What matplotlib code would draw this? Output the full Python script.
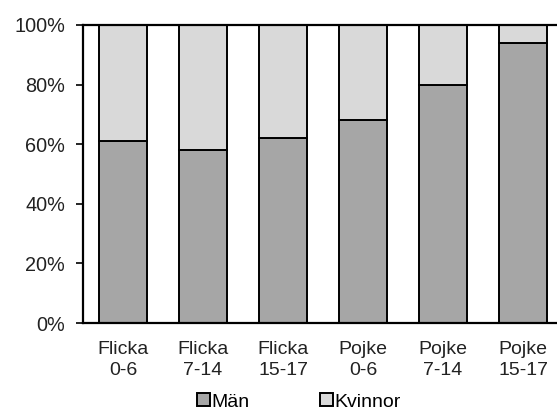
import matplotlib
matplotlib.use("Agg")
import matplotlib.pyplot as plt
import numpy as np

categories = ["Flicka\n0-6", "Flicka\n7-14", "Flicka\n15-17", "Pojke\n0-6", "Pojke\n7-14", "Pojke\n15-17"]
man = [61, 58, 62, 68, 80, 94]
kvinnor = [100 - v for v in man]

plt.rcParams['font.family'] = ['Liberation Sans', 'DejaVu Sans']

fig = plt.figure(figsize=(5.57, 4.11), dpi=100)
# plot area is cut off at the right edge in the original
ax = fig.add_axes([83 / 557, 1 - 323 / 411, 480 / 557, 298 / 411])

x = np.arange(len(categories))
ax.bar(x, man, width=0.61, color='#a6a6a6', edgecolor='black', linewidth=1.4, label='Män')
ax.bar(x, kvinnor, bottom=man, width=0.61, color='#d9d9d9', edgecolor='black', linewidth=1.4, label='Kvinnor')

ax.set_xlim(-0.5, 5.5)
ax.set_ylim(0, 100)
ax.set_yticks(range(0, 101, 20))
ax.set_yticklabels([f"{v}%" for v in range(0, 101, 20)], fontsize=14.3, color='#222222')
ax.set_xticks(x)
ax.set_xticklabels(categories, fontsize=14, color='#222222', linespacing=1.3)
ax.tick_params(axis='x', length=0, pad=13)
ax.tick_params(axis='y', length=5, width=1.2, pad=8)
for s in ax.spines.values():
    s.set_linewidth(1.6)

fig.legend(loc='center', bbox_to_anchor=(0.537, 0.022), ncol=2, frameon=False,
           fontsize=14, handlelength=0.65, handleheight=0.65, handletextpad=0.1,
           columnspacing=3.6, borderaxespad=0)

fig.savefig("out.png", dpi=100)
